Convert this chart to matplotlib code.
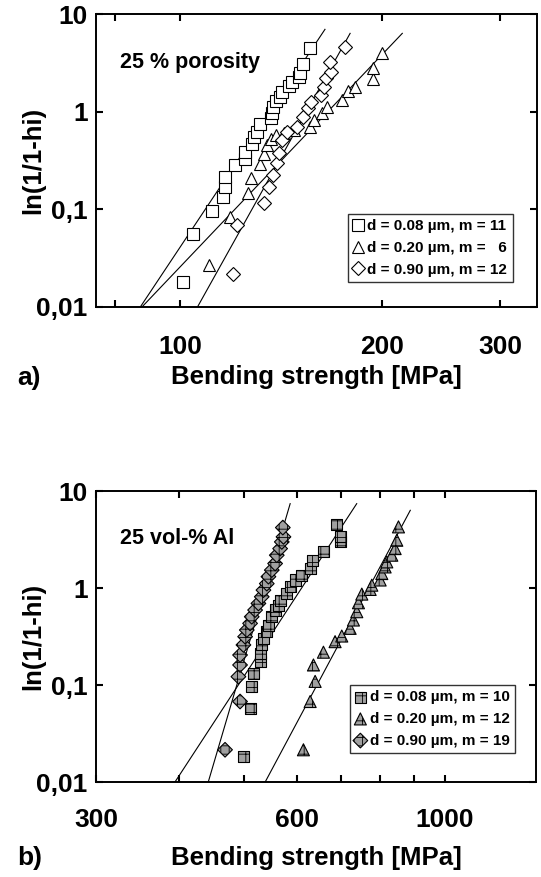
import matplotlib
matplotlib.use('Agg')
import matplotlib.pyplot as plt
from matplotlib.ticker import FixedLocator, FixedFormatter, NullLocator

plt.rcParams['font.family'] = ['Liberation Sans', 'DejaVu Sans']
plt.rcParams['hatch.linewidth'] = 0.6

# a) 25 % porosity
por_sq_x = [101, 104.6, 111.5, 115.8, 116.7, 116.7, 120.8, 124.8, 125, 128, 128.8, 130.3, 131.8,
            136.8, 137.2, 137.6, 139, 140.8, 142.1, 145.5, 146.8, 150.6, 150.7, 152.3, 156.2]
por_sq_y = [0.018, 0.056, 0.097, 0.135, 0.171, 0.215, 0.284, 0.33, 0.39, 0.47, 0.55, 0.62, 0.75,
            0.86, 0.96, 1.11, 1.30, 1.40, 1.60, 1.83, 2.0, 2.25, 2.47, 3.1, 4.45]
por_tr_x = [110.5, 118.8, 126.3, 127.4, 131.8, 133.3, 134.6, 136.5, 139, 143, 148, 156, 158.6,
            163, 165.6, 174, 178, 182, 193.6, 193.6, 200]
por_tr_y = [0.027, 0.084, 0.146, 0.208, 0.29, 0.37, 0.46, 0.52, 0.58, 0.61, 0.65, 0.70, 0.82,
            0.96, 1.11, 1.32, 1.64, 1.80, 2.15, 2.78, 3.96]
por_di_x = [119.8, 121.6, 133.3, 135.7, 137.6, 139.6, 140.5, 142, 144.5, 149.6, 152.3, 154.9,
            156.6, 162, 164, 165, 168, 167, 176]
por_di_y = [0.022, 0.069, 0.115, 0.171, 0.225, 0.296, 0.375, 0.51, 0.62, 0.70, 0.89, 1.08,
            1.27, 1.48, 1.80, 2.2, 2.57, 3.25, 4.56]
por_fit_sq = ([87.3, 164.4], [0.01, 6.97])
por_fit_tr = ([87.8, 214.3], [0.01, 6.34])
por_fit_di = ([106.2, 179.2], [0.01, 6.34])
por_labels = ['d = 0.08 µm, m = 11', 'd = 0.20 µm, m =   6', 'd = 0.90 µm, m = 12']

# b) 25 vol-% Al
al_sq_x = [499.1, 510.7, 513.6, 516.6, 528.6, 528.6, 531.7, 534.8, 541.0, 544.1, 550.4, 556.8,
           563.2, 566.5, 579.7, 586.4, 596.7, 610.6, 628.4, 634.2, 657.9, 696.8, 696.8, 688.9]
al_sq_y = [0.0184, 0.0577, 0.0964, 0.132, 0.174, 0.212, 0.259, 0.303, 0.355, 0.415, 0.506, 0.593,
           0.667, 0.751, 0.879, 1.03, 1.21, 1.36, 1.59, 1.94, 2.36, 2.99, 3.37, 4.54]
al_tr_x = [614.0, 628.4, 639.3, 635.6, 657.9, 684.9, 700.9, 721.4, 729.7, 738.2, 742.5, 751.1,
           773.0, 777.5, 800.2, 804.8, 814.1, 818.8, 833.1, 842.7, 847.6, 852.5]
al_tr_y = [0.0215, 0.0676, 0.109, 0.161, 0.218, 0.280, 0.320, 0.384, 0.468, 0.570, 0.705, 0.866,
           0.967, 1.07, 1.21, 1.41, 1.65, 1.86, 2.18, 2.55, 3.11, 4.27]
al_di_x = [468.4, 493.3, 490.5, 493.3, 493.3, 499.1, 502.0, 504.9, 510.7, 513.6, 519.6, 525.6,
           531.7, 534.8, 541.0, 544.1, 550.4, 556.8, 560.0, 566.5, 569.8, 573.1, 571.8]
al_di_y = [0.0215, 0.0676, 0.122, 0.161, 0.204, 0.259, 0.315, 0.369, 0.432, 0.506, 0.593, 0.694,
           0.813, 0.952, 1.11, 1.31, 1.53, 1.79, 2.18, 2.55, 2.99, 3.37, 4.20]
al_fit_sq = ([394, 738], [0.01, 7.41])
al_fit_tr = ([538, 888], [0.01, 6.33])
al_fit_di = ([442, 586.5], [0.01, 7.41])
al_labels = ['d = 0.08 µm, m = 10', 'd = 0.20 µm, m = 12', 'd = 0.90 µm, m = 19']

y_ticks = [0.01, 0.1, 1, 10]
y_ticklabels = ['0,01', '0,1', '1', '10']
por_xticks = [80, 100, 200, 300]
por_xticklabels = ['', '100', '200', '300']
al_xticks = [300, 400, 500, 600, 700, 800, 900, 1000]
al_xticklabels = ['300', '', '', '600', '', '', '', '1000']

fig = plt.figure(figsize=(5.41, 8.77), dpi=100)
ax1 = fig.add_axes([0.1775, 0.650, 0.815, 0.334])
ax2 = fig.add_axes([0.1775, 0.1083, 0.813, 0.3318])


def style_axes(ax, xlim, xticks, xticklabels, xpad, labelpad):
    ax.set_xscale('log')
    ax.set_yscale('log')
    ax.set_xlim(*xlim)
    ax.set_ylim(0.01, 10)
    ax.xaxis.set_major_locator(FixedLocator(xticks))
    ax.xaxis.set_major_formatter(FixedFormatter(xticklabels))
    ax.xaxis.set_minor_locator(NullLocator())
    ax.yaxis.set_major_locator(FixedLocator(y_ticks))
    ax.yaxis.set_major_formatter(FixedFormatter(y_ticklabels))
    ax.yaxis.set_minor_locator(NullLocator())
    ax.tick_params(which='both', direction='in', top=True, right=True,
                   length=5, width=1.5, labelsize=19)
    ax.tick_params(axis='x', pad=xpad)
    ax.tick_params(axis='y', pad=6)
    for lab in ax.get_xticklabels() + ax.get_yticklabels():
        lab.set_fontweight('bold')
    for sp in ax.spines.values():
        sp.set_linewidth(1.4)
    ax.set_xlabel('Bending strength [MPa]', fontsize=18.5, fontweight='bold', labelpad=labelpad)
    ax.set_ylabel('ln(1/1-hi)', fontsize=18.5, fontweight='bold')
    ax.yaxis.set_label_coords(-0.115, 0.5)


# top panel
style_axes(ax1, (75, 340), por_xticks, por_xticklabels, 20.5, 4)
for fx, fy in (por_fit_sq, por_fit_tr, por_fit_di):
    ax1.plot(fx, fy, color='black', lw=0.8, zorder=1)
h1 = ax1.plot(por_sq_x, por_sq_y, 's', ms=8, mfc='white', mec='black', mew=0.8, zorder=3)[0]
h2 = ax1.plot(por_tr_x, por_tr_y, '^', ms=9, mfc='white', mec='black', mew=0.8, zorder=3)[0]
h3 = ax1.plot(por_di_x, por_di_y, 'D', ms=7.5, mfc='white', mec='black', mew=0.8, zorder=3)[0]
ax1.text(0.054, 0.836, '25 % porosity', transform=ax1.transAxes, fontsize=15.5,
         fontweight='bold', va='center', ha='left')
leg1 = ax1.legend([h1, h2, h3], por_labels, loc='lower right', bbox_to_anchor=(0.945, 0.085),
                  prop={'size': 11, 'weight': 'bold'}, frameon=True, fancybox=False,
                  edgecolor='black', handlelength=0.7, handletextpad=0.25, borderpad=0.35,
                  labelspacing=0.5, borderaxespad=0)
leg1.get_frame().set_linewidth(1.0)

# bottom panel
style_axes(ax2, (300, 1370), al_xticks, al_xticklabels, 19, 10)
for fx, fy in (al_fit_sq, al_fit_tr, al_fit_di):
    ax2.plot(fx, fy, color='black', lw=0.8, zorder=1)
g1 = ax2.scatter(al_sq_x, al_sq_y, marker='s', s=64, facecolor='#a0a0a0', edgecolor='black',
                 linewidths=0.8, hatch='++', zorder=3)
g2 = ax2.scatter(al_tr_x, al_tr_y, marker='^', s=75, facecolor='#a0a0a0', edgecolor='black',
                 linewidths=0.8, hatch='++', zorder=3)
g3 = ax2.scatter(al_di_x, al_di_y, marker='D', s=56, facecolor='#a0a0a0', edgecolor='black',
                 linewidths=0.8, hatch='++', zorder=3)
ax2.text(0.055, 0.838, '25 vol-% Al', transform=ax2.transAxes, fontsize=15.5,
         fontweight='bold', va='center', ha='left')
leg2 = ax2.legend([g1, g2, g3], al_labels, loc='lower right', bbox_to_anchor=(0.952, 0.10),
                  prop={'size': 11, 'weight': 'bold'}, frameon=True, fancybox=False,
                  edgecolor='black', handlelength=0.7, handletextpad=0.25, borderpad=0.35,
                  labelspacing=0.5, borderaxespad=0, scatterpoints=1)
leg2.get_frame().set_linewidth(1.0)

fig.text(0.031, 1 - 378 / 877, 'a)', fontsize=19, fontweight='bold', va='center', ha='left')
fig.text(0.031, 1 - 858 / 877, 'b)', fontsize=19, fontweight='bold', va='center', ha='left')

fig.savefig('out.png', dpi=100)
